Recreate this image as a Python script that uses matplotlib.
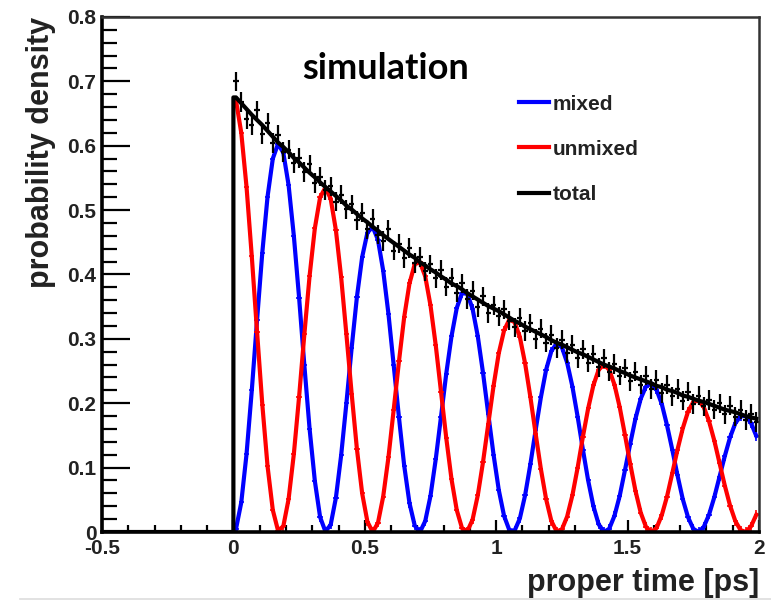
import numpy as np
import matplotlib.pyplot as plt
from matplotlib.ticker import MultipleLocator

# proper-time binning: 100 bins of 0.02 ps between 0 and 2 ps
bin_width = 0.02
n_bins = 100

# unmixed (red) and mixed (blue) probability density per bin
unmixed = [0.670, 0.620, 0.536, 0.428, 0.311, 0.198, 0.102, 0.034, 0.002, 0.009,
           0.051, 0.121, 0.210, 0.307, 0.398, 0.472, 0.520, 0.535, 0.518, 0.469,
           0.396, 0.307, 0.215, 0.129, 0.060, 0.016, 0.000, 0.014, 0.055, 0.116,
           0.190, 0.265, 0.334, 0.386, 0.416, 0.419, 0.397, 0.352, 0.290, 0.218,
           0.146, 0.082, 0.034, 0.006, 0.001, 0.019, 0.057, 0.109, 0.168, 0.227,
           0.278, 0.313, 0.330, 0.326, 0.303, 0.262, 0.210, 0.153, 0.098, 0.051,
           0.017, 0.001, 0.004, 0.024, 0.057, 0.100, 0.148, 0.192, 0.228, 0.252,
           0.260, 0.252, 0.229, 0.194, 0.151, 0.106, 0.064, 0.030, 0.008, 0.000,
           0.006, 0.026, 0.055, 0.091, 0.128, 0.161, 0.187, 0.202, 0.204, 0.194,
           0.172, 0.142, 0.107, 0.072, 0.041, 0.017, 0.003, 0.000, 0.009, 0.027]

mixed = [0.005, 0.046, 0.121, 0.220, 0.329, 0.434, 0.521, 0.580, 0.603, 0.589,
         0.539, 0.460, 0.364, 0.259, 0.160, 0.079, 0.023, 0.001, 0.011, 0.053,
         0.119, 0.200, 0.286, 0.365, 0.427, 0.465, 0.474, 0.454, 0.406, 0.339,
         0.259, 0.178, 0.103, 0.045, 0.010, 0.000, 0.017, 0.056, 0.113, 0.179,
         0.246, 0.304, 0.348, 0.371, 0.370, 0.347, 0.304, 0.247, 0.183, 0.120,
         0.065, 0.025, 0.003, 0.002, 0.021, 0.057, 0.105, 0.158, 0.209, 0.252,
         0.281, 0.293, 0.287, 0.263, 0.226, 0.179, 0.128, 0.080, 0.040, 0.012,
         0.000, 0.005, 0.025, 0.056, 0.096, 0.137, 0.176, 0.207, 0.226, 0.231,
         0.221, 0.199, 0.166, 0.128, 0.088, 0.051, 0.023, 0.005, 0.000, 0.008,
         0.027, 0.054, 0.086, 0.118, 0.147, 0.169, 0.180, 0.180, 0.169, 0.149]

# simulated events (all tags), normalised
total_data = [0.700, 0.668, 0.641, 0.632, 0.655, 0.618, 0.636, 0.604, 0.617, 0.590,
              0.594, 0.573, 0.581, 0.559, 0.571, 0.542, 0.552, 0.531, 0.537, 0.513,
              0.524, 0.501, 0.509, 0.484, 0.496, 0.470, 0.486, 0.462, 0.452, 0.470,
              0.437, 0.448, 0.425, 0.441, 0.418, 0.427, 0.405, 0.416, 0.394, 0.407,
              0.381, 0.395, 0.372, 0.386, 0.362, 0.375, 0.349, 0.366, 0.340, 0.352,
              0.335, 0.346, 0.328, 0.318, 0.333, 0.312, 0.324, 0.300, 0.316, 0.294,
              0.306, 0.286, 0.299, 0.278, 0.291, 0.270, 0.284, 0.263, 0.276, 0.256,
              0.270, 0.249, 0.261, 0.243, 0.254, 0.234, 0.249, 0.229, 0.243, 0.222,
              0.236, 0.216, 0.229, 0.211, 0.222, 0.204, 0.218, 0.199, 0.212, 0.195,
              0.205, 0.190, 0.200, 0.183, 0.196, 0.179, 0.190, 0.174, 0.184, 0.171]

err_data = 0.015
err_tag = 0.007

t = (np.arange(n_bins) + 0.5) * bin_width
unmixed = np.array(unmixed)
mixed = np.array(mixed)
total = unmixed + mixed

fig = plt.figure(figsize=(7.71, 6.01), dpi=100)
ax = fig.add_axes([0.1323, 0.1148, 0.8521, 0.857])

# tagged distributions
ax.errorbar(t, mixed, xerr=bin_width / 2, yerr=err_tag, fmt='none',
            ecolor='blue', elinewidth=1.2, capsize=0)
ax.plot(t, mixed, color='blue', lw=3.0, label='mixed')
ax.errorbar(t, unmixed, xerr=bin_width / 2, yerr=err_tag, fmt='none',
            ecolor='red', elinewidth=1.2, capsize=0)
ax.plot(t, unmixed, color='red', lw=3.0, label='unmixed')

# total: zero before t=0, then the decay
t_tot = np.concatenate([[-0.5, 0.0, 0.0], t])
y_tot = np.concatenate([[0.0, 0.0, total[0]], total])
ax.plot(t_tot, y_tot, color='black', lw=3.0, label='total')
ax.errorbar(t, total_data, xerr=bin_width / 2, yerr=err_data, fmt='none',
            ecolor='black', elinewidth=1.6, capsize=0)

ax.set_xlim(-0.5, 2.0)
ax.set_ylim(0, 0.8)
ax.xaxis.set_minor_locator(MultipleLocator(0.1))
ax.yaxis.set_minor_locator(MultipleLocator(0.02))
ax.set_xticks([-0.5, 0, 0.5, 1, 1.5, 2])
ax.set_xticklabels(['-0.5', '0', '0.5', '1', '1.5', '2'])
ax.set_yticks(np.arange(0, 0.81, 0.1))
ax.set_yticklabels(['0', '0.1', '0.2', '0.3', '0.4', '0.5', '0.6', '0.7', '0.8'])

ax.tick_params(axis='both', which='both', direction='in', top=False, right=False,
               color='black', width=1.6)
ax.tick_params(axis='x', which='major', length=9, pad=5)
ax.tick_params(axis='x', which='minor', length=5)
ax.tick_params(axis='y', which='major', length=20, pad=4)
ax.tick_params(axis='y', which='minor', length=11)
for lab in ax.get_xticklabels() + ax.get_yticklabels():
    lab.set_fontfamily('Liberation Sans')
    lab.set_fontweight('bold')
    lab.set_fontsize(15)
    lab.set_color('#222222')

for side in ['left', 'bottom']:
    ax.spines[side].set_linewidth(2.6)
for side in ['top', 'right']:
    ax.spines[side].set_linewidth(1.8)
    ax.spines[side].set_color('#333333')

ax.set_ylabel('probability density', fontfamily='Liberation Sans', fontweight='bold',
              fontsize=22, color='#222222', loc='top', labelpad=8)
ax.set_xlabel('proper time [ps]', fontfamily='Liberation Sans', fontweight='bold',
              fontsize=22, color='#222222', loc='right', labelpad=7)

ax.text(0.431, 0.900, 'simulation', transform=ax.transAxes, ha='center', va='center',
        fontfamily='Lato', fontweight='bold', fontsize=26, color='black')

leg = ax.legend(loc='upper left', bbox_to_anchor=(0.635, 0.849), frameon=False,
                handlelength=1.45, handletextpad=0.15, labelspacing=1.25,
                borderaxespad=0, borderpad=0,
                prop={'family': 'Liberation Sans', 'weight': 'bold', 'size': 15})
for txt in leg.get_texts():
    txt.set_color('#222222')

# thin frame line along the lower edge
fig.add_artist(plt.Line2D([0.026, 1.0], [0.003, 0.003], color='#dddddd', lw=1.2))

fig.savefig('out.png', dpi=100)
